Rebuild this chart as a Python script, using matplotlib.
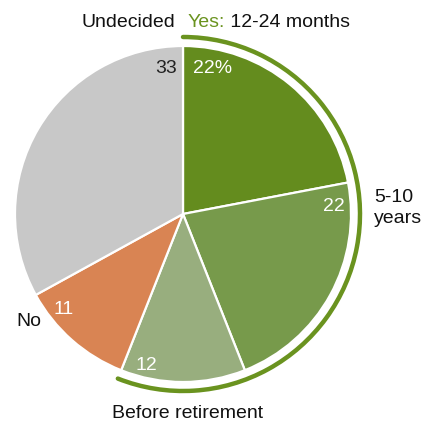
import matplotlib
matplotlib.use("Agg")
import matplotlib.pyplot as plt
from matplotlib.patches import Arc

plt.rcParams['font.family'] = ['Liberation Sans', 'DejaVu Sans']

# share of respondents, clockwise from 12 o'clock
answers = ["Yes: 12-24 months", "5-10 years", "Before retirement", "No", "Undecided"]
shares = [22, 22, 12, 11, 33]
value_labels = ["22%", "22", "12", "11", "33"]
colors = ["#648c1e", "#779a4b", "#98ae7e", "#d98453", "#c8c8c8"]
yes_count = 3  # first three slices are "yes" answers

W, H = 423, 425
fig = plt.figure(figsize=(W / 100, H / 100), dpi=100)
ax = fig.add_axes([0, 0, 1, 1])
ax.set_xlim(0, W)
ax.set_ylim(0, H)
ax.set_aspect("equal")
ax.axis("off")

cx, cy, r = 183, H - 214, 168
ax.pie(shares, colors=colors, startangle=90, counterclock=False,
       center=(cx, cy), radius=r, frame=True,
       wedgeprops=dict(edgecolor="white", linewidth=1.6))
ax.set_xlim(0, W)
ax.set_ylim(0, H)
ax.axis("off")

# bracket arc around the "yes" answers
yes_total = sum(shares[:yes_count])
end_angle = 90 - 360 * yes_total / sum(shares)
arc = Arc((cx, cy), 2 * 177, 2 * 177, theta1=end_angle, theta2=90,
          color="#6a931f", linewidth=3.2, capstyle="round")
ax.add_patch(arc)

fs = 14
# value labels inside the slices
ax.text(193, H - 68, value_labels[0], color="white", fontsize=fs, va="center", ha="left")
ax.text(345, H - 206, value_labels[1], color="white", fontsize=fs, va="center", ha="right")
ax.text(135, H - 365, value_labels[2], color="white", fontsize=fs, va="center", ha="left")
ax.text(53, H - 310, value_labels[3], color="white", fontsize=fs, va="center", ha="left")
ax.text(177, H - 68, value_labels[4], color="#222222", fontsize=fs, va="center", ha="right")

# category labels around the pie
ax.text(175, H - 22, answers[4], color="#111111", fontsize=fs, va="center", ha="right")
t = ax.text(188, H - 22, "Yes:", color="#6a931f", fontsize=fs, va="center", ha="left")
ax.annotate(" 12-24 months", xycoords=t, xy=(1, 0), va="bottom", ha="left",
            color="#111111", fontsize=fs)
ax.text(374, H - 208, "5-10\nyears", color="#111111", fontsize=fs, va="center",
        ha="left", linespacing=1.25)
ax.text(16, H - 322, answers[3], color="#111111", fontsize=fs, va="center", ha="left")
ax.text(188, H - 414, answers[2], color="#111111", fontsize=fs, va="center", ha="center")

fig.savefig("out.png", dpi=100)
